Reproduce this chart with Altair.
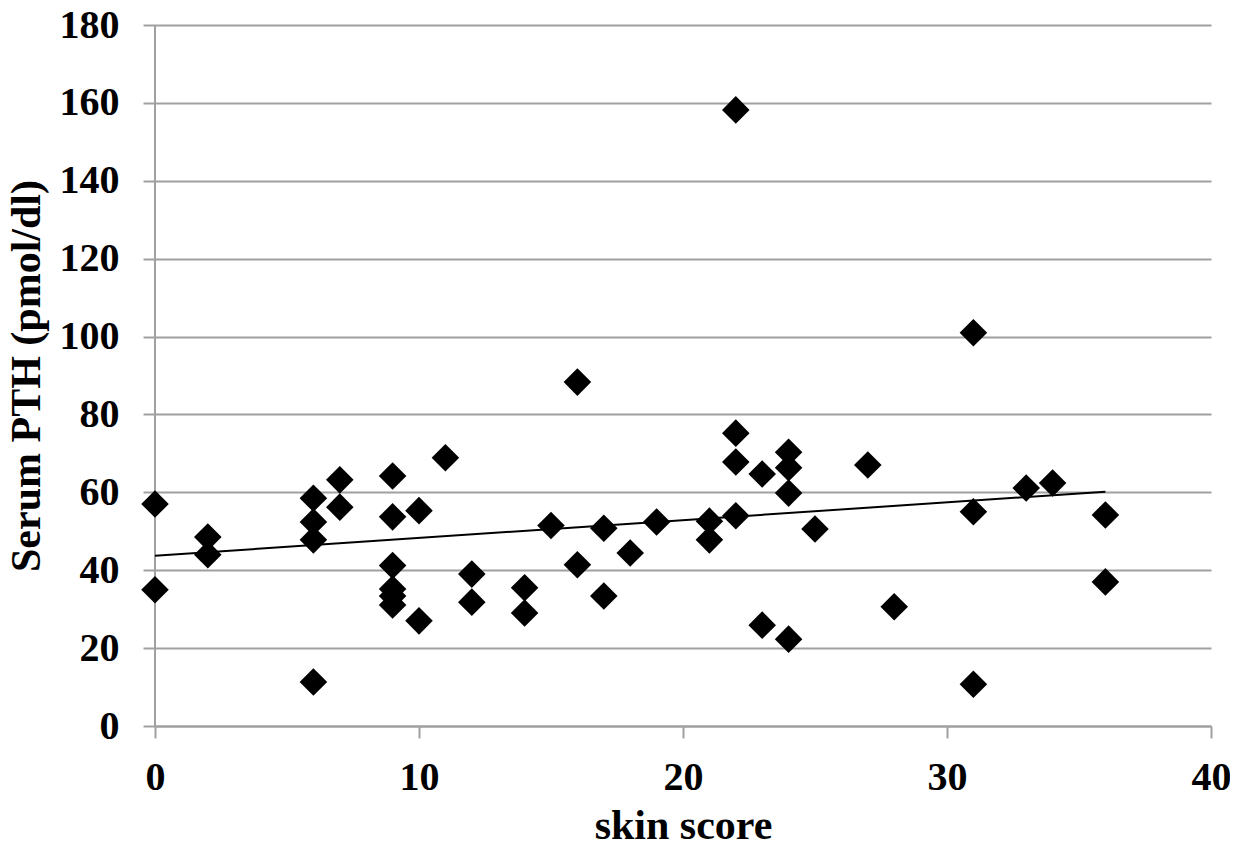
import altair as alt
import pandas as pd

skin_score = [0, 0, 2, 2, 6, 6, 6, 6, 7, 7,
              9, 9, 9, 9, 9, 9, 10, 10, 11, 12,
              12, 14, 14, 15, 16, 16, 17, 17, 18, 19,
              21, 21, 22, 22, 22, 22, 23, 23, 24, 24,
              24, 24, 25, 27, 28, 31, 31, 31, 33, 34,
              36, 36]
serum_pth = [57, 35, 48.5, 44, 58.5, 52.4, 47.8, 11.3, 63.2, 56.2,
             64.2, 53.7, 41.2, 35.2, 33.4, 31.1, 55.3, 27, 68.9, 39,
             31.8, 35.5, 29, 51.5, 88.3, 41.4, 50.8, 33.4, 44.4, 52.4,
             52.6, 47.8, 158.2, 75.2, 67.8, 54, 64.7, 25.9, 70.3, 66.3,
             59.8, 22.3, 50.6, 67, 30.6, 101, 55, 10.7, 61.1, 62.4,
             54.2, 37]

df = pd.DataFrame({"x": skin_score, "y": serum_pth})

FONT = "Liberation Serif"
GRID = "#a0a0a0"

x_enc = alt.X("x:Q", title="skin score",
              scale=alt.Scale(domain=[0, 40], nice=False, zero=True),
              axis=alt.Axis(values=[0, 10, 20, 30, 40], grid=False,
                            labelFlush=False,
                            domainColor=GRID, domainWidth=2,
                            tickColor=GRID, tickWidth=2, tickSize=12,
                            labelPadding=19, titlePadding=8))
y_enc = alt.Y("y:Q", title="Serum PTH (pmol/dl)",
              scale=alt.Scale(domain=[0, 180], nice=False),
              axis=alt.Axis(values=list(range(0, 181, 20)), grid=True,
                            labelFlush=False,
                            gridColor=GRID, gridWidth=2,
                            domain=False,
                            tickColor=GRID, tickWidth=2, tickSize=12,
                            labelPadding=24, titlePadding=11))

points = alt.Chart(df).mark_point(shape="diamond", filled=True, color="black",
                                  size=760, opacity=1).encode(x=x_enc, y=y_enc)

trend = alt.Chart(df).transform_regression(
    "x", "y", extent=[0, 36]
).mark_line(color="black", strokeWidth=2).encode(x="x:Q", y="y:Q")

yaxis_line = alt.Chart(pd.DataFrame({"x": [0]})).mark_rule(
    color=GRID, strokeWidth=2).encode(x="x:Q")

chart = alt.layer(yaxis_line, points, trend).properties(
    width=1056, height=701,
    autosize=alt.AutoSizeParams(type="none"),
    padding={"left": 147, "top": 17, "right": 19, "bottom": 119},
).configure_view(stroke=None).configure_axis(
    labelFont=FONT, labelFontSize=40, labelFontWeight="bold", labelColor="black",
    titleFont=FONT, titleFontSize=42, titleFontWeight="bold", titleColor="black",
)

chart.save("out.html", embed_options={"renderer": "svg", "actions": False})
